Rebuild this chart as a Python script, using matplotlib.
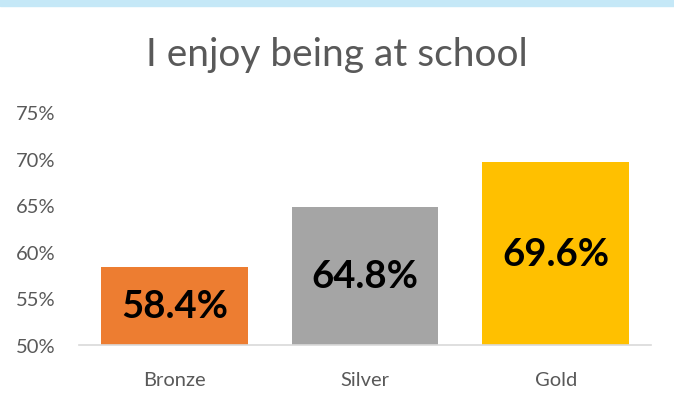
import matplotlib
matplotlib.use("Agg")
import matplotlib.pyplot as plt
from matplotlib.patches import Rectangle

categories = ["Bronze", "Silver", "Gold"]
values = [0.584, 0.648, 0.696]
colors = ["#ED7D31", "#A5A5A5", "#FFC000"]
yticks = [0.50, 0.55, 0.60, 0.65, 0.70, 0.75]

plt.rcParams["font.family"] = ["Lato", "DejaVu Sans"]

fig = plt.figure(figsize=(6.74, 4.02), dpi=100)
# light blue strip across the top
fig.patches.append(Rectangle((0, 1 - 7 / 402), 1, 7 / 402, transform=fig.transFigure,
                             color="#C5E8F7", zorder=0))

ax = fig.add_axes([79 / 674, 1 - 346 / 402, (651 - 79) / 674, (346 - 113) / 402])
x = range(len(categories))
ax.bar(x, values, width=0.77, color=colors, bottom=0)
ax.set_ylim(0.50, 0.75)
ax.set_xlim(-0.5, 2.5)

for i, v in enumerate(values):
    ax.text(i, (v + 0.50) / 2, f"{v * 100:.1f}%", ha="center", va="center",
            fontsize=27.5, fontweight="bold", color="black")

ax.set_yticks(yticks)
ax.set_yticklabels([f"{int(round(t * 100))}%" for t in yticks])
ax.set_xticks(list(x))
ax.set_xticklabels(categories)
ax.tick_params(axis="both", length=0, labelsize=14.5, labelcolor="#595959")
ax.tick_params(axis="y", pad=17)
ax.tick_params(axis="x", pad=19)

for s in ["top", "right", "left"]:
    ax.spines[s].set_visible(False)
ax.spines["bottom"].set_color("#D9D9D9")
ax.spines["bottom"].set_linewidth(1.2)

fig.text(0.5, 1 - 55 / 402, "I enjoy being at school", ha="center", va="center",
         fontsize=28, color="#595959")

fig.savefig("out.png", dpi=100)
